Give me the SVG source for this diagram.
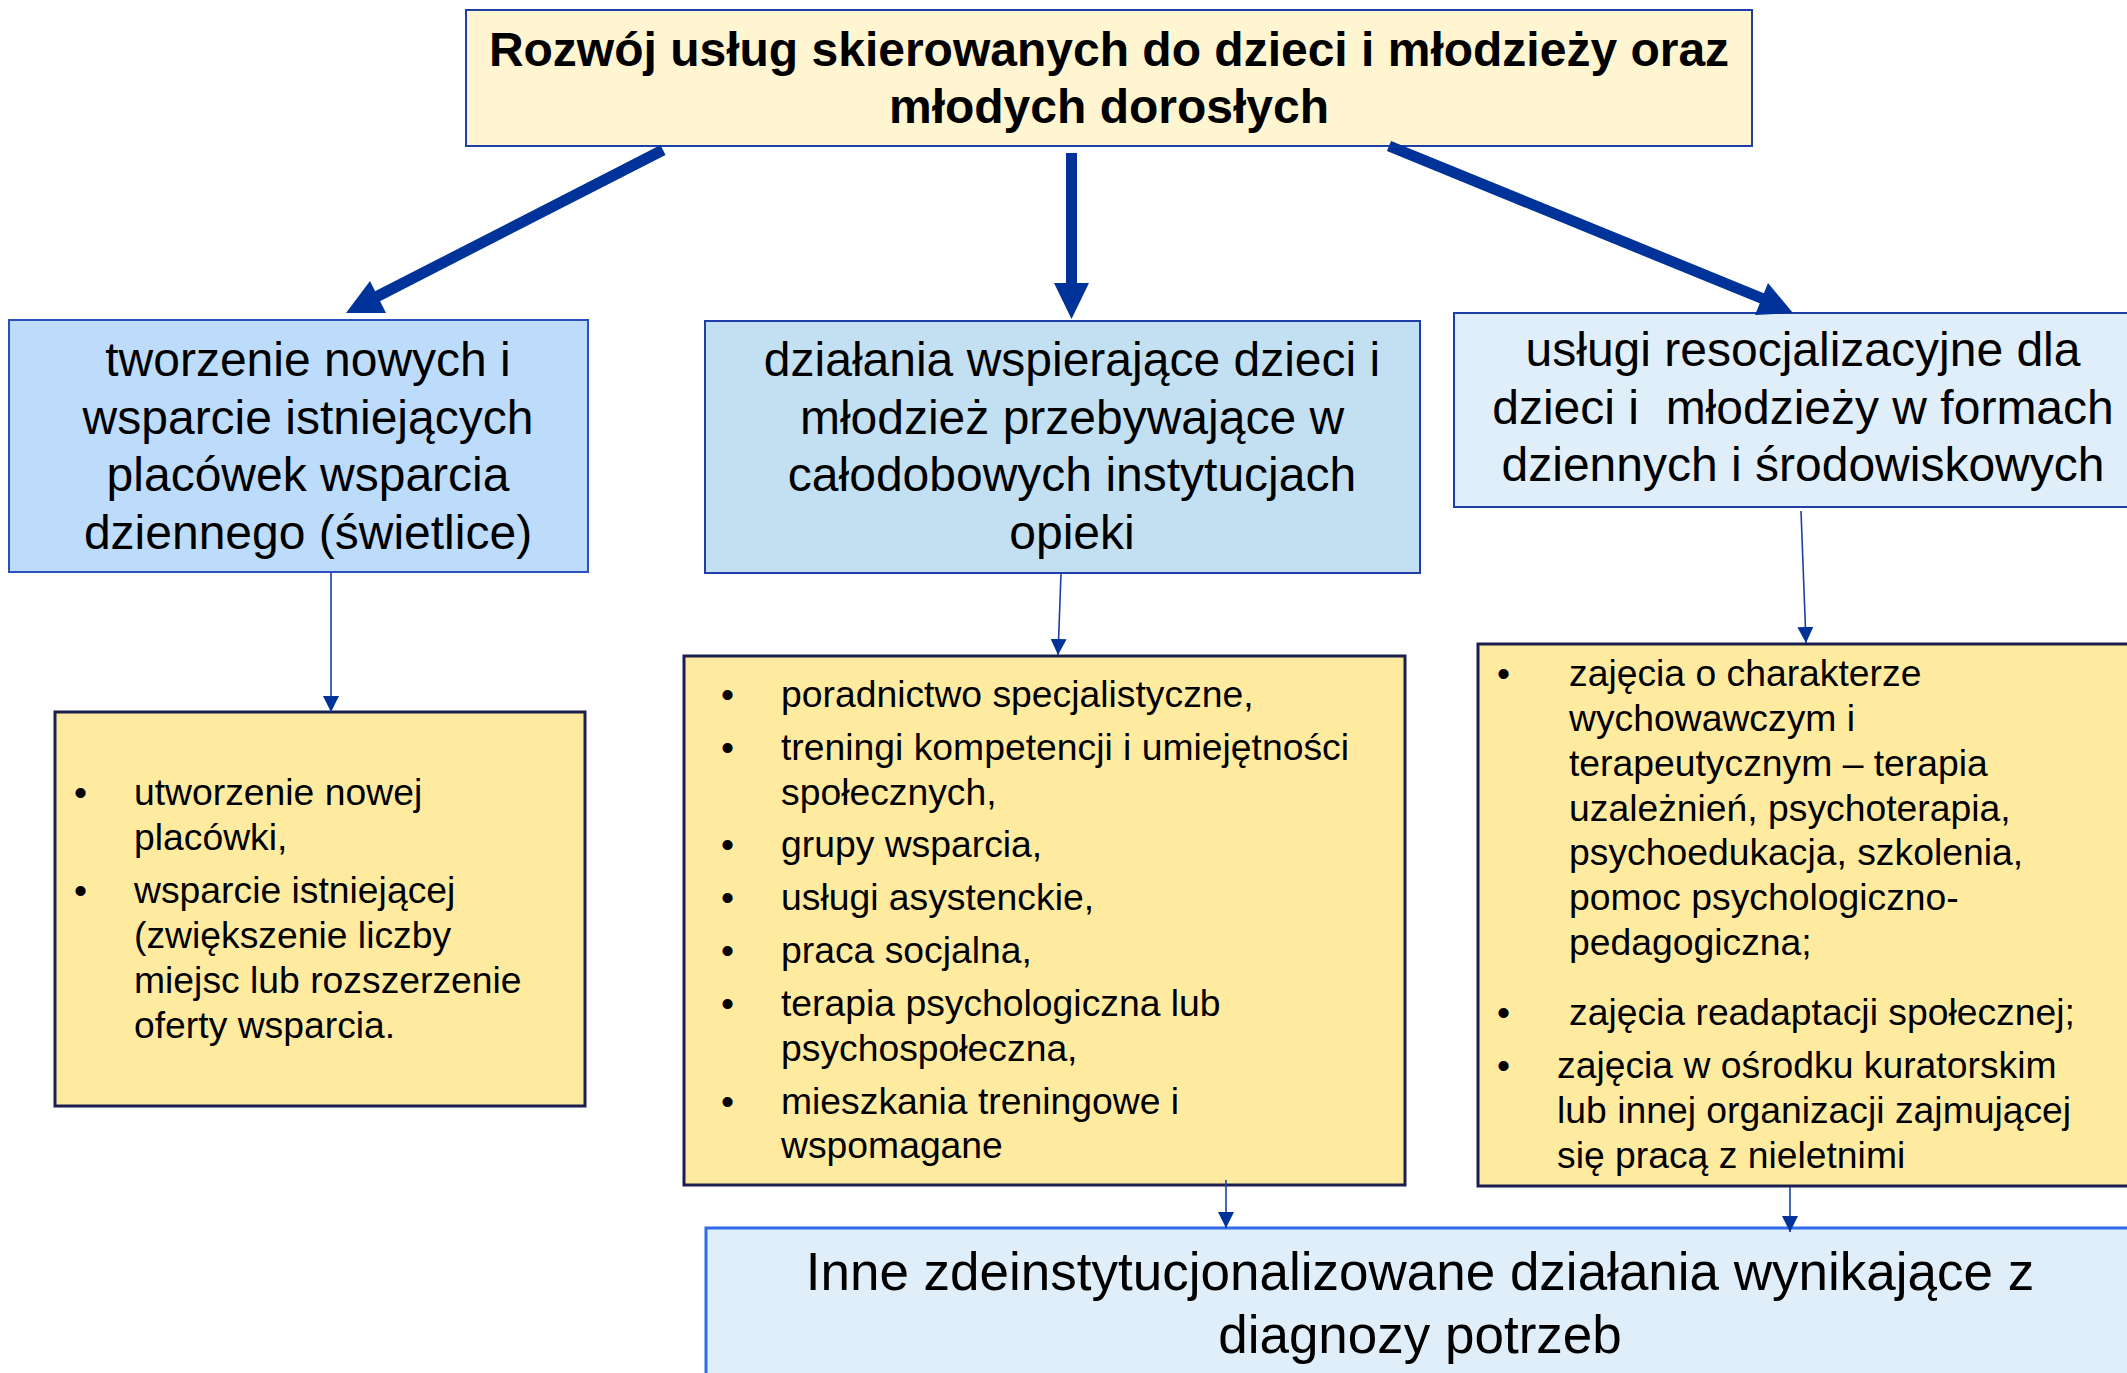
<svg xmlns="http://www.w3.org/2000/svg" width="2127" height="1373" viewBox="0 0 2127 1373">
<defs>
<marker id="thin" markerUnits="userSpaceOnUse" markerWidth="16" markerHeight="16" refX="16" refY="8" orient="auto">
<path d="M0,0 L16,8 L0,16 z" fill="#003399"/>
</marker>
</defs>
<style>
text{font-family:"Liberation Sans",Arial,sans-serif;fill:#000}
.t{font-size:48px;font-weight:bold;text-anchor:middle}
.m{font-size:48px;text-anchor:middle}
.b{font-size:53px;text-anchor:middle}
.s{font-size:37.3px}
.yel{fill:#FFEBA0;stroke:#1A1F4E;stroke-width:3}
.thick{stroke:#003399;stroke-width:11;fill:none}
.head{fill:#003399}
.thin{stroke:#1C3FA6;stroke-width:1.6;fill:none;marker-end:url(#thin)}
</style>
<rect width="2127" height="1373" fill="#fff"/>

<g id="top">
<rect x="466" y="10" width="1286" height="136" fill="#FFF5D0" stroke="#1F3FA8" stroke-width="2"/>
<text class="t" x="1109" y="66">Rozwój usług skierowanych do dzieci i młodzieży oraz</text>
<text class="t" x="1109" y="123">młodych dorosłych</text>
</g>

<g id="box1">
<rect x="9" y="320" width="579" height="252" fill="#BDDBFB" stroke="#2A50BF" stroke-width="2"/>
<text class="m" x="308" y="376">tworzenie nowych i</text>
<text class="m" x="308" y="434">wsparcie istniejących</text>
<text class="m" x="308" y="491">placówek wsparcia</text>
<text class="m" x="308" y="549">dziennego (świetlice)</text>
</g>

<g id="box2">
<rect x="705" y="321" width="715" height="252" fill="#C3E0F2" stroke="#1F3FA8" stroke-width="2"/>
<text class="m" x="1072" y="376">działania wspierające dzieci i</text>
<text class="m" x="1072" y="434">młodzież przebywające w</text>
<text class="m" x="1072" y="491">całodobowych instytucjach</text>
<text class="m" x="1072" y="549">opieki</text>
</g>

<g id="box3">
<rect x="1454" y="313" width="700" height="194" fill="#DFEEF8" stroke="#1F3FA8" stroke-width="2"/>
<text class="m" x="1803" y="366">usługi resocjalizacyjne dla</text>
<text class="m" x="1803" y="424" xml:space="preserve">dzieci i  młodzieży w formach</text>
<text class="m" x="1803" y="481">dziennych i środowiskowych</text>
</g>

<g id="listA">
<rect class="yel" x="55" y="712" width="530" height="394"/>
<text class="s" x="74" y="805">•</text>
<text class="s" x="134" y="805">utworzenie nowej</text>
<text class="s" x="134" y="850">placówki,</text>
<text class="s" x="74" y="903">•</text>
<text class="s" x="134" y="903">wsparcie istniejącej</text>
<text class="s" x="134" y="948">(zwiększenie liczby</text>
<text class="s" x="134" y="993">miejsc lub rozszerzenie</text>
<text class="s" x="134" y="1038">oferty wsparcia.</text>
</g>

<g id="listB">
<rect class="yel" x="684" y="656" width="721" height="529"/>
<text class="s" x="721" y="707">•</text>
<text class="s" x="781" y="707">poradnictwo specjalistyczne,</text>
<text class="s" x="721" y="760">•</text>
<text class="s" x="781" y="760">treningi kompetencji i umiejętności</text>
<text class="s" x="781" y="805">społecznych,</text>
<text class="s" x="721" y="857">•</text>
<text class="s" x="781" y="857">grupy wsparcia,</text>
<text class="s" x="721" y="910">•</text>
<text class="s" x="781" y="910">usługi asystenckie,</text>
<text class="s" x="721" y="963">•</text>
<text class="s" x="781" y="963">praca socjalna,</text>
<text class="s" x="721" y="1016">•</text>
<text class="s" x="781" y="1016">terapia psychologiczna lub</text>
<text class="s" x="781" y="1061">psychospołeczna,</text>
<text class="s" x="721" y="1114">•</text>
<text class="s" x="781" y="1114">mieszkania treningowe i</text>
<text class="s" x="781" y="1158">wspomagane</text>
</g>

<g id="listC">
<rect class="yel" x="1478" y="644" width="700" height="542"/>
<text class="s" x="1497" y="686">•</text>
<text class="s" x="1569" y="686">zajęcia o charakterze</text>
<text class="s" x="1569" y="731">wychowawczym i</text>
<text class="s" x="1569" y="776">terapeutycznym – terapia</text>
<text class="s" x="1569" y="821">uzależnień, psychoterapia,</text>
<text class="s" x="1569" y="865">psychoedukacja, szkolenia,</text>
<text class="s" x="1569" y="910">pomoc psychologiczno-</text>
<text class="s" x="1569" y="955">pedagogiczna;</text>
<text class="s" x="1497" y="1025">•</text>
<text class="s" x="1569" y="1025">zajęcia readaptacji społecznej;</text>
<text class="s" x="1497" y="1078">•</text>
<text class="s" x="1557" y="1078">zajęcia w ośrodku kuratorskim</text>
<text class="s" x="1557" y="1123">lub innej organizacji zajmującej</text>
<text class="s" x="1557" y="1168">się pracą z nieletnimi</text>
</g>

<g id="bottom">
<rect x="706" y="1228" width="1430" height="160" fill="#DFEEF8" stroke="#2F6BEA" stroke-width="3"/>
<text class="b" x="1420" y="1290">Inne zdeinstytucjonalizowane działania wynikające z</text>
<text class="b" x="1420" y="1353">diagnozy potrzeb</text>
</g>

<g id="connectors">
<line class="thick" x1="663" y1="150" x2="376" y2="297"/>
<polygon class="head" points="346,313 370,281 386,313"/>
<line class="thick" x1="1071.5" y1="153" x2="1071.5" y2="286"/>
<polygon class="head" points="1054,283 1089,283 1071.5,319"/>
<line class="thick" x1="1389" y1="146" x2="1766" y2="300"/>
<polygon class="head" points="1768,283 1793,313 1755,315"/>
<line class="thin" x1="331" y1="573" x2="331" y2="712"/>
<line class="thin" x1="1061" y1="574" x2="1058" y2="655"/>
<line class="thin" x1="1801" y1="511" x2="1806" y2="643"/>
<line class="thin" x1="1226" y1="1180" x2="1226" y2="1228"/>
<line class="thin" x1="1790" y1="1187" x2="1790" y2="1232"/>
</g>
</svg>
